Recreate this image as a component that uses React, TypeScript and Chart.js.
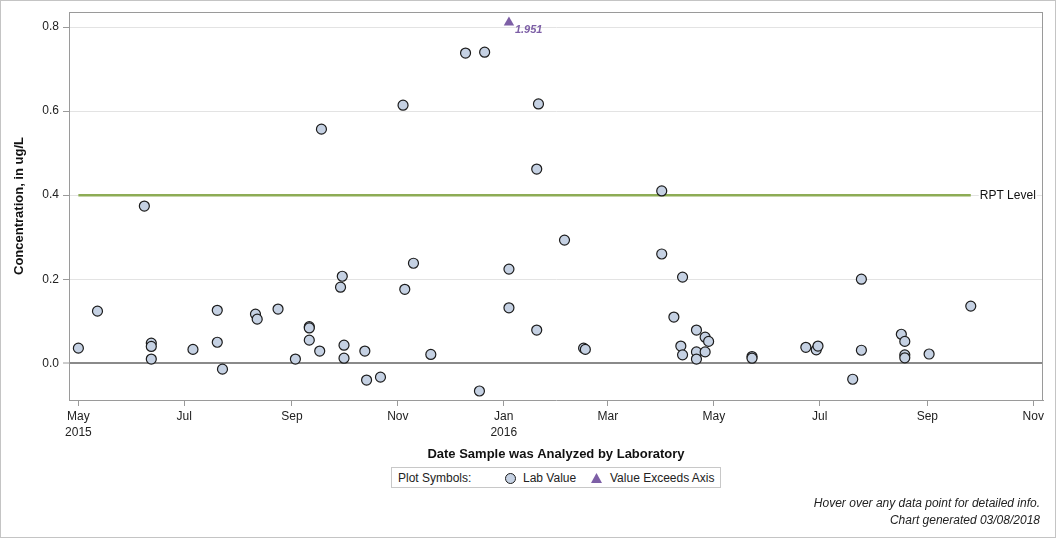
import React, { useEffect, useRef } from "react";
import { Chart, registerables } from "chart.js";

Chart.register(...registerables);

// ---------- data ----------
const originDate = "2015-05-01";

const sampleDates = [
  "2015-05-01", "2015-05-12", "2015-06-08", "2015-06-12", "2015-06-12", "2015-06-12",
  "2015-07-06", "2015-07-20", "2015-07-20", "2015-07-23", "2015-08-11", "2015-08-12",
  "2015-08-24", "2015-09-03", "2015-09-11", "2015-09-11", "2015-09-11", "2015-09-17",
  "2015-09-18", "2015-09-29", "2015-09-30", "2015-10-01", "2015-10-01", "2015-10-13",
  "2015-10-14", "2015-10-22", "2015-11-04", "2015-11-05", "2015-11-10", "2015-11-20",
  "2015-12-10", "2015-12-18", "2015-12-21", "2016-01-04", "2016-01-04", "2016-01-20",
  "2016-01-20", "2016-01-21", "2016-02-05", "2016-02-16", "2016-02-17", "2016-04-01",
  "2016-04-01", "2016-04-08", "2016-04-13", "2016-04-12", "2016-04-13", "2016-04-21",
  "2016-04-21", "2016-04-21", "2016-04-26", "2016-04-26", "2016-04-28", "2016-05-23",
  "2016-05-23", "2016-06-23", "2016-06-29", "2016-06-30", "2016-07-20", "2016-07-25",
  "2016-07-25", "2016-08-17", "2016-08-19", "2016-08-19", "2016-08-19", "2016-09-02",
  "2016-09-26",
];

const sampleValues = [
  0.036, 0.124, 0.374, 0.048, 0.040, 0.010,
  0.033, 0.126, 0.050, -0.014, 0.117, 0.105,
  0.129, 0.010, 0.087, 0.084, 0.055, 0.029,
  0.557, 0.181, 0.207, 0.043, 0.012, 0.029,
  -0.040, -0.033, 0.614, 0.176, 0.238, 0.021,
  0.738, -0.066, 0.740, 0.224, 0.132, 0.462,
  0.079, 0.617, 0.293, 0.036, 0.033, 0.410,
  0.260, 0.110, 0.205, 0.041, 0.020, 0.079,
  0.027, 0.010, 0.062, 0.027, 0.052, 0.016,
  0.012, 0.038, 0.032, 0.041, -0.038, 0.200,
  0.031, 0.069, 0.052, 0.020, 0.013, 0.022,
  0.136,
];

const exceedDates = ["2016-01-04"];
const exceedValues = [1.951];
const exceedPlotValue = 0.811;

const rptLevel = 0.4;
const rptLabel = "RPT Level";

const yTickValues = [0, 0.2, 0.4, 0.6, 0.8];
const yMin = -0.0874;
const yMax = 0.8357;

const xTickDates = [
  "2015-05-01", "2015-07-01", "2015-09-01", "2015-11-01", "2016-01-01",
  "2016-03-01", "2016-05-01", "2016-07-01", "2016-09-01", "2016-11-01",
];
const xTickLabels: (string | string[])[] = [
  ["May", "2015"], "Jul", "Sep", "Nov", ["Jan", "2016"], "Mar", "May", "Jul", "Sep", "Nov",
];
const xMinDay = -5.4;
const xMaxDay = 555.6;

const xTitle = "Date Sample was Analyzed by Laboratory";
const yTitle = "Concentration, in ug/L";
const legendTitle = "Plot Symbols:";
const legendLab = "Lab Value";
const legendExceed = "Value Exceeds Axis";
const footer1 = "Hover over any data point for detailed info.";
const footer2 = "Chart generated 03/08/2018";

// ---------- helpers ----------
const FONT = "'Liberation Sans', Arial, Helvetica, sans-serif";
const dayOf = (s: string) =>
  (Date.parse(s + "T00:00:00Z") - Date.parse(originDate + "T00:00:00Z")) / 86400000;

const POINT_FILL = "#C5D1E3";
const POINT_EDGE = "#1c1c1c";
const PURPLE = "#7D5FA6";
const GREEN = "#8DAC55";
const AXIS_GREY = "#9a9a9a";

const overlayPlugin = {
  id: "overlay",
  afterDatasetsDraw(chart: any) {
    const { ctx, chartArea: a, scales } = chart;
    const xs = scales.x;
    const ys = scales.y;
    ctx.save();
    // frame top & right
    ctx.strokeStyle = AXIS_GREY;
    ctx.lineWidth = 1;
    ctx.beginPath();
    ctx.moveTo(a.left, a.top + 0.5);
    ctx.lineTo(a.right, a.top + 0.5);
    ctx.moveTo(a.right - 0.5, a.top);
    ctx.lineTo(a.right - 0.5, a.bottom);
    ctx.stroke();

    // RPT label
    const lastDay = dayOf(sampleDates[sampleDates.length - 1]);
    const lx = xs.getPixelForValue(lastDay) + 9;
    const ly = ys.getPixelForValue(rptLevel);
    ctx.font = `12px ${FONT}`;
    const w = ctx.measureText(rptLabel).width;
    ctx.fillStyle = "#ffffff";
    ctx.fillRect(lx - 1, ly - 6, w + 2, 12);
    ctx.fillStyle = "#111111";
    ctx.textAlign = "left";
    ctx.textBaseline = "middle";
    ctx.fillText(rptLabel, lx, ly + 1);

    // exceed labels
    const meta = chart.getDatasetMeta(1);
    ctx.font = `italic bold 11px ${FONT}`;
    ctx.fillStyle = PURPLE;
    meta.data.forEach((el: any, i: number) => {
      ctx.fillText(exceedValues[i].toFixed(3), el.x + 6, el.y + 8);
    });
    ctx.restore();
  },
};

export default function App() {
  const canvasRef = useRef<HTMLCanvasElement | null>(null);

  useEffect(() => {
    const canvas = canvasRef.current;
    if (!canvas) return;
    const firstDay = dayOf(sampleDates[0]);
    const lastDay = dayOf(sampleDates[sampleDates.length - 1]);

    const chart = new Chart(canvas, {
      type: "scatter",
      data: {
        datasets: [
          {
            label: legendLab,
            data: sampleDates.map((d, i) => ({ x: dayOf(d), y: sampleValues[i] })),
            pointRadius: 5,
            pointHoverRadius: 5,
            backgroundColor: POINT_FILL,
            borderColor: POINT_EDGE,
            borderWidth: 1.2,
            order: 1,
          },
          {
            label: legendExceed,
            data: exceedDates.map((d) => ({ x: dayOf(d), y: exceedPlotValue })),
            pointStyle: "triangle",
            pointRadius: 6,
            pointHoverRadius: 6,
            backgroundColor: PURPLE,
            borderColor: PURPLE,
            borderWidth: 0,
            order: 0,
          },
          {
            type: "line",
            label: rptLabel,
            data: [
              { x: firstDay, y: rptLevel },
              { x: lastDay, y: rptLevel },
            ],
            borderColor: GREEN,
            borderWidth: 2.5,
            pointRadius: 0,
            showLine: true,
            order: 2,
          } as any,
        ],
      },
      options: {
        responsive: false,
        animation: false,
        events: [],
        layout: { padding: { top: 12, right: 13, bottom: 76, left: 0 } },
        plugins: {
          legend: { display: false },
          tooltip: { enabled: false },
          title: { display: false },
        },
        scales: {
          x: {
            type: "linear",
            min: xMinDay,
            max: xMaxDay,
            afterBuildTicks: (s: any) => {
              s.ticks = xTickDates.map((d) => ({ value: dayOf(d) }));
            },
            afterFit: (s: any) => {
              s.height = 62;
            },
            ticks: {
              autoSkip: false,
              maxRotation: 0,
              padding: 3,
              color: "#222222",
              font: { family: FONT, size: 12, lineHeight: 1.33 },
              callback: (_v: any, i: number) => xTickLabels[i],
            },
            grid: {
              drawOnChartArea: false,
              drawTicks: true,
              tickLength: 6,
              tickColor: AXIS_GREY,
              tickWidth: 1,
            },
            border: { display: true, color: AXIS_GREY, width: 1 },
            title: {
              display: true,
              text: xTitle,
              color: "#111111",
              font: { family: FONT, size: 13, weight: "bold" },
              padding: { top: 0, bottom: 0 },
            },
          },
          y: {
            type: "linear",
            min: yMin,
            max: yMax,
            afterBuildTicks: (s: any) => {
              s.ticks = yTickValues.map((v) => ({ value: v }));
            },
            afterFit: (s: any) => {
              s.width = 69;
            },
            ticks: {
              padding: 4,
              color: "#222222",
              font: { family: FONT, size: 12 },
              callback: (v: any) => Number(v).toFixed(1),
            },
            grid: {
              color: (c: any) => (c.tick && c.tick.value === 0 ? "#8a8a8a" : "#e3e3e3"),
              lineWidth: (c: any) => (c.tick && c.tick.value === 0 ? 2 : 1),
              tickLength: 6,
              tickColor: AXIS_GREY,
              tickWidth: 1,
            },
            border: { display: true, color: AXIS_GREY, width: 1 },
            title: {
              display: true,
              text: yTitle,
              color: "#111111",
              font: { family: FONT, size: 13, weight: "bold" },
              padding: { top: 12, bottom: 0 },
            },
          },
        },
      },
      plugins: [overlayPlugin],
    } as any);

    return () => chart.destroy();
  }, []);

  const textStyle: React.CSSProperties = {
    position: "absolute",
    top: 0,
    lineHeight: "20px",
    fontFamily: FONT,
    fontSize: 12,
    color: "#222",
    whiteSpace: "nowrap",
  };

  return (
    <div
      style={{
        position: "absolute",
        left: 0,
        top: 0,
        width: 1056,
        height: 538,
        boxSizing: "border-box",
        border: "1px solid #c4c4c4",
        background: "#fff",
        overflow: "hidden",
      }}
    >
      <canvas
        ref={canvasRef}
        width={1056}
        height={538}
        style={{ position: "absolute", left: -1, top: -1, width: 1056, height: 538 }}
      />
      <div
        style={{
          position: "absolute",
          left: 390,
          top: 466,
          width: 330,
          height: 21,
          boxSizing: "border-box",
          border: "1px solid #c8c8c8",
          background: "#fff",
        }}
      >
        <span style={{ ...textStyle, left: 6 }}>{legendTitle}</span>
        <span
          style={{
            position: "absolute",
            left: 113,
            top: 5,
            width: 9,
            height: 9,
            borderRadius: "50%",
            background: POINT_FILL,
            border: `1.2px solid ${POINT_EDGE}`,
          }}
        />
        <span style={{ ...textStyle, left: 131 }}>{legendLab}</span>
        <svg
          width={11}
          height={10}
          style={{ position: "absolute", left: 199, top: 5 }}
        >
          <polygon points="5.5,0 11,10 0,10" fill={PURPLE} />
        </svg>
        <span style={{ ...textStyle, left: 218 }}>{legendExceed}</span>
      </div>
      <div
        style={{
          position: "absolute",
          right: 15,
          top: 494,
          textAlign: "right",
          fontFamily: FONT,
          fontSize: 12,
          fontStyle: "italic",
          color: "#222",
          lineHeight: "17px",
          whiteSpace: "nowrap",
        }}
      >
        <div>{footer1}</div>
        <div>{footer2}</div>
      </div>
    </div>
  );
}
